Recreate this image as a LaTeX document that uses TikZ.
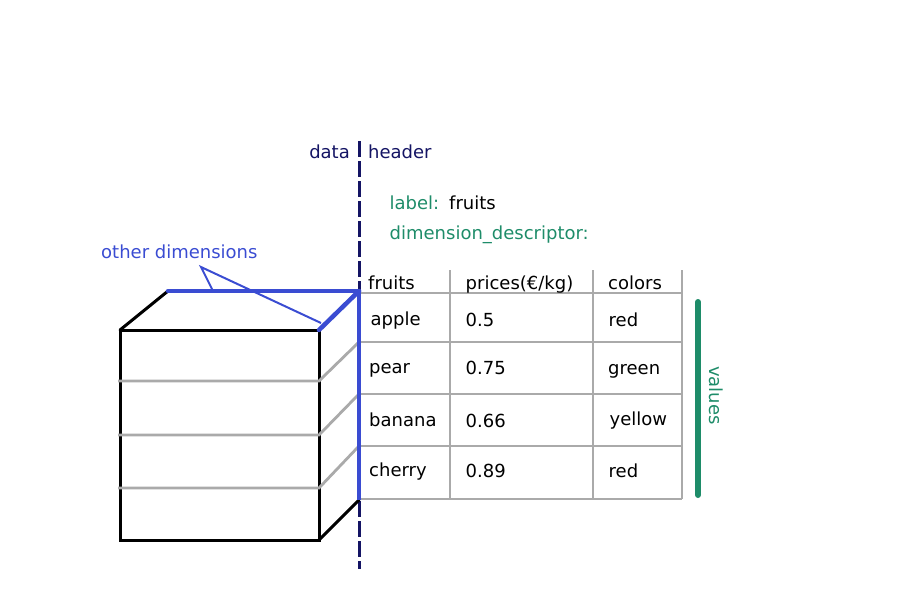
\documentclass[tikz,border=0pt]{standalone}
\usepackage{fontspec}
\setmainfont{DejaVu Sans}
\definecolor{navy}{RGB}{20,20,100}
\definecolor{tgreen}{RGB}{30,140,105}
\definecolor{tblue}{RGB}{58,76,210}
\definecolor{tgray}{RGB}{170,170,170}
\tikzset{
  txt/.style={inner sep=0pt, anchor=base west, font=\fontsize{18}{21}\selectfont},
  cell/.style={txt, text=black},
  grid/.style={draw=tgray, line width=2.8pt},
  edge/.style={draw=black, line width=3pt, line cap=round},
  bluedge/.style={draw=tblue, line width=4.5pt, line cap=round},
}
\begin{document}
\begin{tikzpicture}[x=1pt,y=-1pt]
\useasboundingbox (0,0) rectangle (900,600);
% dashed separator
\draw[navy, line width=3pt, dash pattern=on 16pt off 4pt] (359,141) -- (359,569);
% table grid
\foreach \yy in {293,342,394,446,499} \draw[grid] (359,\yy) -- (682,\yy);
\foreach \xx in {450,593,682} \draw[grid] (\xx,270) -- (\xx,499);
% cube
\draw[edge, line cap=butt] (120,330) rectangle (319,540);
\draw[edge] (120,330) -- (168,291);
\draw[edge] (319,540) -- (359,500);
\foreach \a/\b in {381/342,435/394,488/446}
  \draw[draw=tgray, line width=2.8pt] (118,\a) -- (319,\a) -- (359,\b);
\draw[bluedge] (168,291) -- (359,291);
\draw[bluedge] (319,330) -- (359,291);
\draw[draw=tblue, line width=4.5pt] (359,290) -- (359,500);
% pointer for other dimensions
\coordinate (apex) at (201,267);
\coordinate (p1) at (213,291);
\coordinate (p2) at (321,323);
\draw[tblue, line width=2pt] (p1) -- (apex) -- (p2);
% texts
\node[txt, text=tblue] (other) at (101,258.3) {other dimensions};
\node[txt, text=navy, anchor=base east] (data) at (350,158.3) {data};
\node[txt, text=navy] (header) at (368,158.3) {header};
\node[txt, text=tgreen] (label) at (389.5,209.3) {label:};
\node[cell] (labelval) at (449,209.3) {fruits};
\node[txt, text=tgreen] (dimdesc) at (389.5,239.3) {dimension\_descriptor:};
% table cells
\node[cell] (h1) at (368,289.3) {fruits};
\node[cell] (h2) at (465.5,289.3) {prices(€/kg)};
\node[cell] (h3) at (608,289.3) {colors};
\node[cell] (a1) at (370.5,325.3) {apple};
\node[cell] (a2) at (465.5,326.5) {0.5};
\node[cell] (a3) at (608.5,326) {red};
\node[cell] (b1) at (369,373.3) {pear};
\node[cell] (b2) at (465.5,374) {0.75};
\node[cell] (b3) at (608,374) {green};
\node[cell] (c1) at (369,426.5) {banana};
\node[cell] (c2) at (465.5,427.3) {0.66};
\node[cell] (c3) at (609.5,425.7) {yellow};
\node[cell] (d1) at (369,476.7) {cherry};
\node[cell] (d2) at (465.5,477.3) {0.89};
\node[cell] (d3) at (608.5,477.3) {red};
% values bar
\coordinate (vtop) at (698,302);
\coordinate (vbot) at (698,495);
\draw[tgreen, line width=6pt, line cap=round] (vtop) -- (vbot);
\node[txt, text=tgreen, rotate=-90] (values) at (709.3,366) {values};
\end{tikzpicture}
\end{document}
